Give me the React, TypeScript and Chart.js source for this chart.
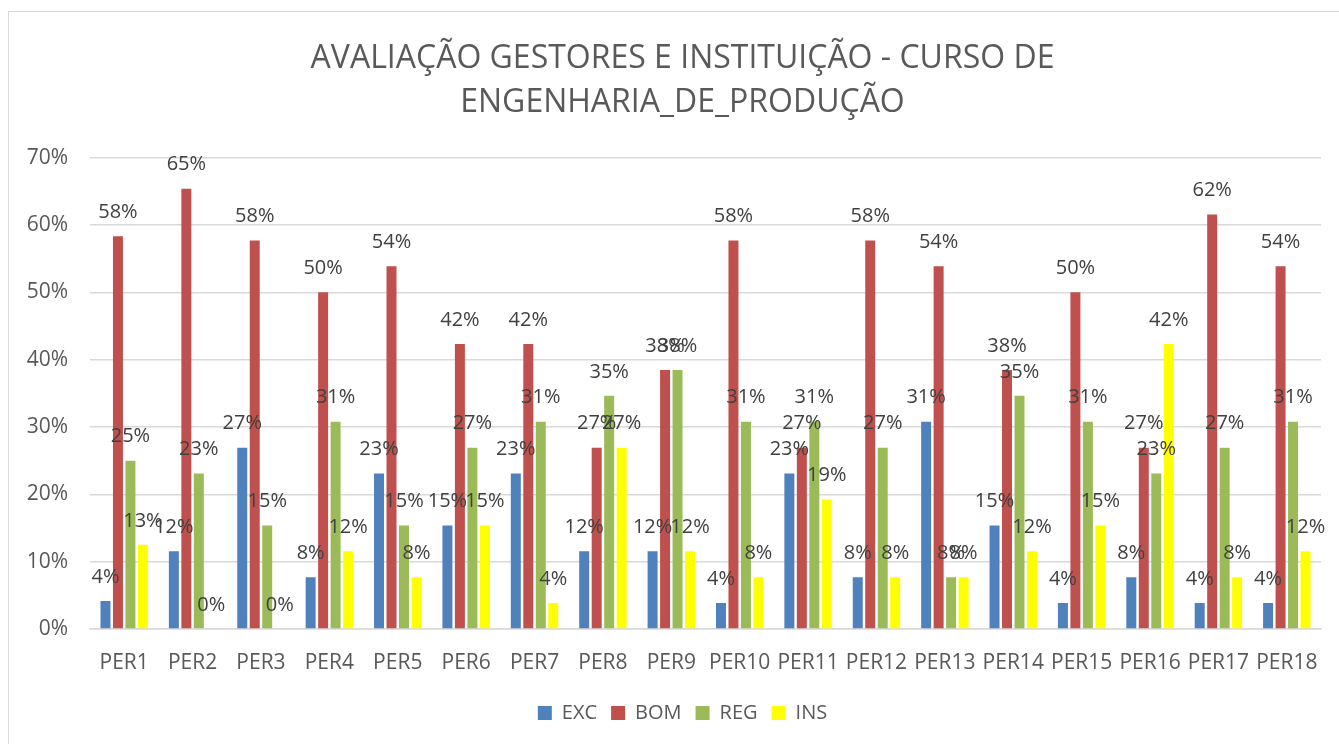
import React, { useEffect, useRef } from "react";
import { Chart, registerables } from "chart.js";

Chart.register(...registerables);

const categories = ["PER1","PER2","PER3","PER4","PER5","PER6","PER7","PER8","PER9","PER10","PER11","PER12","PER13","PER14","PER15","PER16","PER17","PER18"];
const exc = [4.17,11.54,26.92,7.69,23.08,15.38,23.08,11.54,11.54,3.85,23.08,7.69,30.77,15.38,3.85,7.69,3.85,3.85];
const bom = [58.33,65.38,57.69,50,53.85,42.31,42.31,26.92,38.46,57.69,26.92,57.69,53.85,38.46,50,26.92,61.54,53.85];
const reg = [25,23.08,15.38,30.77,15.38,26.92,30.77,34.62,38.46,30.77,30.77,26.92,7.69,34.62,30.77,23.08,26.92,30.77];
const ins = [12.5,0,0,11.54,7.69,15.38,3.85,26.92,11.54,7.69,19.23,7.69,7.69,11.54,15.38,42.31,7.69,11.54];
const seriesNames = ["EXC","BOM","REG","INS"];
const seriesColors = ["#4F81BD","#C0504D","#9BBB59","#FFFF00"];
const titleLines = ["AVALIAÇÃO GESTORES E INSTITUIÇÃO - CURSO DE","ENGENHARIA_DE_PRODUÇÃO"];

const FONT = "'Open Sans', sans-serif";

const labelPlugin = {
  id: "valueLabels",
  afterDatasetsDraw(chart: any) {
    const ctx = chart.ctx;
    ctx.save();
    ctx.font = `20px ${FONT}`;
    ctx.fillStyle = "#404040";
    ctx.textAlign = "center";
    ctx.textBaseline = "middle";
    chart.data.datasets.forEach((ds: any, i: number) => {
      const meta = chart.getDatasetMeta(i);
      meta.data.forEach((el: any, j: number) => {
        const v = ds.data[j];
        ctx.fillText(Math.round(v) + "%", el.x, el.y - 24);
      });
    });
    ctx.restore();
  },
};

const yLabelPlugin = {
  id: "yLabels",
  afterDraw(chart: any) {
    const ctx = chart.ctx;
    const y = chart.scales.y;
    ctx.save();
    ctx.font = `21px ${FONT}`;
    ctx.fillStyle = "#595959";
    ctx.textAlign = "right";
    ctx.textBaseline = "middle";
    y.ticks.forEach((t: any) => {
      ctx.fillText(t.value + "%", chart.chartArea.left - 22, y.getPixelForValue(t.value));
    });
    ctx.restore();
  },
};

export default function App() {
  const ref = useRef<HTMLCanvasElement>(null);
  useEffect(() => {
    if (!ref.current) return;
    const all = [exc, bom, reg, ins];
    const chart = new Chart(ref.current, {
      type: "bar",
      data: {
        labels: categories,
        datasets: all.map((d, i) => ({
          label: seriesNames[i],
          data: d,
          backgroundColor: seriesColors[i],
          borderWidth: 0,
          barPercentage: 0.8,
          categoryPercentage: 0.73,
        })),
      },
      options: {
        animation: false,
        responsive: false,
        maintainAspectRatio: false,
        layout: { padding: { left: 44, right: 18, top: 0, bottom: 11 } },
        plugins: {
          title: {
            display: true,
            text: titleLines,
            color: "#595959",
            font: { family: FONT, size: 32, weight: "normal", lineHeight: 1.4 },
            padding: { top: 36, bottom: 32 },
          },
          legend: {
            position: "bottom",
            labels: {
              color: "#595959",
              font: { family: FONT, size: 20 },
              boxWidth: 14,
              boxHeight: 14,
              padding: 14,
            },
          },
          tooltip: { enabled: false },
        },
        scales: {
          x: {
            grid: { display: false, drawTicks: false },
            border: { display: true, color: "#d9d9d9", width: 1.5 },
            ticks: { color: "#595959", font: { family: FONT, size: 21 }, padding: 21, maxRotation: 0, autoSkip: false },
            afterFit: (s: any) => { s.width = s.width; s.height = 60; },
          },
          y: {
            min: 0,
            max: 70,
            grid: { color: "#d9d9d9", lineWidth: 1.5, drawTicks: false },
            border: { display: false },
            ticks: {
              stepSize: 10,
              display: false,
            },
            afterFit: (s: any) => { s.width = 46; },
          },
        },
      },
      plugins: [labelPlugin, yLabelPlugin],
    });
    return () => chart.destroy();
  }, []);
  return (
    <div style={{ position: "fixed", left: 0, top: 0, width: 1339, height: 744, background: "#fff" }}>
      <div style={{ position: "absolute", left: 8, top: 11, width: 1340, height: 740, border: "1px solid #d9d9d9" }} />
      <canvas ref={ref} width={1339} height={744} style={{ position: "absolute", left: 0, top: 0, width: 1339, height: 744 }} />
    </div>
  );
}
